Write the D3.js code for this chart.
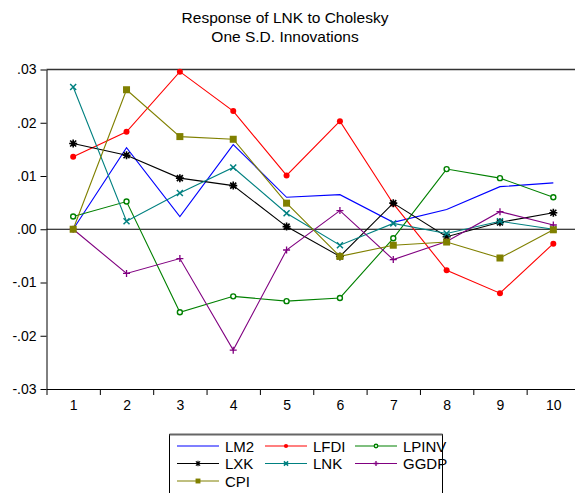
<!DOCTYPE html>
<html><head><meta charset="utf-8">
<script src="https://cdn.jsdelivr.net/npm/d3@7"></script>
<style>body{margin:0;background:#fff;} svg{display:block;} text{font-family:"Liberation Sans",Arial,sans-serif;fill:#000;}</style>
</head><body>
<script>
const periods = [1,2,3,4,5,6,7,8,9,10];
const LM2   = [0.0000, 0.0153, 0.0024, 0.0159, 0.0060, 0.0065, 0.0013, 0.0037, 0.0080, 0.0087];
const LFDI  = [0.0136, 0.0183, 0.0296, 0.0222, 0.0101, 0.0203, 0.0048, -0.0077, -0.0120, -0.0027];
const LPINV = [0.0024, 0.0052, -0.0156, -0.0126, -0.0135, -0.0129, -0.0017, 0.0113, 0.0096, 0.0060];
const LXK   = [0.0161, 0.0139, 0.0096, 0.0082, 0.0005, -0.0051, 0.0049, -0.0014, 0.0013, 0.0031];
const LNK   = [0.0267, 0.0015, 0.0068, 0.0116, 0.0030, -0.0030, 0.0011, -0.0008, 0.0015, 0.0000];
const GGDP  = [0.0000, -0.0083, -0.0055, -0.0227, -0.0039, 0.0035, -0.0057, -0.0023, 0.0033, 0.0008];
const CPI   = [0.0000, 0.0262, 0.0174, 0.0169, 0.0049, -0.0051, -0.0030, -0.0024, -0.0054, -0.0001];
const yTicks = [-0.03,-0.02,-0.01,0,0.01,0.02,0.03];
const yTickLabels = ["-.03","-.02","-.01",".00",".01",".02",".03"];
const titleLines = ["Response of LNK to Cholesky","One S.D. Innovations"];

const series = [
  {name:"LM2", values:LM2, color:"#0000ff", marker:"none"},
  {name:"LFDI", values:LFDI, color:"#ff0000", marker:"dot"},
  {name:"LPINV", values:LPINV, color:"#008000", marker:"ring"},
  {name:"LXK", values:LXK, color:"#000000", marker:"star"},
  {name:"LNK", values:LNK, color:"#008080", marker:"x"},
  {name:"GGDP", values:GGDP, color:"#800080", marker:"plus"},
  {name:"CPI", values:CPI, color:"#808000", marker:"square"}
];

const W=575,H=493;
const svg=d3.select("body").append("svg").attr("width",W).attr("height",H);
const L=46.5, T=69.5, B=389, R=580;
const x=d3.scaleLinear().domain([0.5,10.5]).range([L,R]);
const y=d3.scaleLinear().domain([-0.03,0.03]).range([B,T]);

// title
svg.append("text").attr("x",285).attr("y",22.5).attr("text-anchor","middle").style("font-size","15.5px").text(titleLines[0]);
svg.append("text").attr("x",285).attr("y",41.5).attr("text-anchor","middle").style("font-size","15.5px").text(titleLines[1]);

// frame
svg.append("line").attr("x1",L).attr("x2",R).attr("y1",T).attr("y2",T).attr("stroke","#333").attr("stroke-width",1.5);
svg.append("line").attr("x1",R).attr("x2",R).attr("y1",T).attr("y2",B).attr("stroke","#000");

// y axis
const yAxis=d3.axisLeft(y).tickValues(yTicks).tickFormat((d,i)=>yTickLabels[i]).tickSize(6).tickSizeOuter(0).tickPadding(4);
const gy=svg.append("g").attr("transform",`translate(${L},0)`).call(yAxis);
gy.selectAll("text").style("font-size","14px").style("font-family",'"Liberation Sans",Arial,sans-serif');
gy.select(".domain").attr("stroke","#000");

// x axis ticks at boundaries
const bounds=d3.range(0.5,10.51,1);
const xAxis=d3.axisBottom(x).tickValues(bounds).tickFormat("").tickSize(6).tickSizeOuter(0);
const gx=svg.append("g").attr("transform",`translate(0,${B})`).call(xAxis);
gx.select(".domain").attr("stroke","#000");
const xLab=d3.axisBottom(x).tickValues(periods).tickFormat(d3.format("d")).tickSize(0).tickPadding(11);
const gx2=svg.append("g").attr("transform",`translate(0,${B})`).call(xLab);
gx2.select(".domain").remove();
gx2.selectAll("text").style("font-size","14px").style("font-family",'"Liberation Sans",Arial,sans-serif');

// zero line
svg.append("line").attr("x1",L).attr("x2",R).attr("y1",y(0)).attr("y2",y(0)).attr("stroke","#000").attr("stroke-width",1);

const line=d3.line().x((d,i)=>x(periods[i])).y(d=>y(d));

function drawMarker(g,type,cx,cy,color,scale){
  scale=scale||1;
  if(type==="dot"){g.append("circle").attr("cx",cx).attr("cy",cy).attr("r",3*scale).attr("fill",color);}
  else if(type==="ring"){g.append("circle").attr("cx",cx).attr("cy",cy).attr("r",2.5*scale).attr("fill","#fff").attr("stroke",color).attr("stroke-width",1.4);}
  else if(type==="square"){const s=7*scale;g.append("rect").attr("x",cx-s/2).attr("y",cy-s/2).attr("width",s).attr("height",s).attr("fill",color);}
  else if(type==="star"){const r=4*scale;const p=`M${cx-r},${cy}L${cx+r},${cy}M${cx},${cy-r}L${cx},${cy+r}M${cx-r*0.75},${cy-r*0.75}L${cx+r*0.75},${cy+r*0.75}M${cx-r*0.75},${cy+r*0.75}L${cx+r*0.75},${cy-r*0.75}`;g.append("path").attr("d",p).attr("stroke",color).attr("stroke-width",1.6*scale).attr("fill","none");}
  else if(type==="x"){const r=3*scale;const p=`M${cx-r},${cy-r}L${cx+r},${cy+r}M${cx-r},${cy+r}L${cx+r},${cy-r}`;g.append("path").attr("d",p).attr("stroke",color).attr("stroke-width",1.5).attr("fill","none");}
  else if(type==="plus"){const r=3.5*scale;const p=`M${cx-r},${cy}L${cx+r},${cy}M${cx},${cy-r}L${cx},${cy+r}`;g.append("path").attr("d",p).attr("stroke",color).attr("stroke-width",1.3).attr("fill","none");}
}

series.forEach(s=>{
  const g=svg.append("g");
  g.append("path").datum(s.values).attr("d",line).attr("fill","none").attr("stroke",s.color).attr("stroke-width",1.1);
  s.values.forEach((v,i)=>drawMarker(g,s.marker,x(periods[i]),y(v),s.color));
});

// legend
const lg=svg.append("g");
lg.append("rect").attr("x",169.5).attr("y",434.5).attr("width",273).attr("height",70).attr("fill","#fff").attr("stroke","#000").attr("stroke-width",1);
lg.append("line").attr("x1",169.5).attr("x2",442.5).attr("y1",434.5).attr("y2",434.5).attr("stroke","#666").attr("stroke-width",2);
const colX=[177,265,355], rowY=[446,463.5,481];
series.forEach((s,i)=>{
  const cx=colX[i%3], cy=rowY[Math.floor(i/3)];
  lg.append("line").attr("x1",cx).attr("x2",cx+42).attr("y1",cy).attr("y2",cy).attr("stroke",s.color).attr("stroke-width",1.1);
  drawMarker(lg,s.marker,cx+21,cy,s.color,0.7);
  lg.append("text").attr("x",cx+48).attr("y",cy+5.5).style("font-size","15px").text(s.name);
});
</script>
</body></html>
